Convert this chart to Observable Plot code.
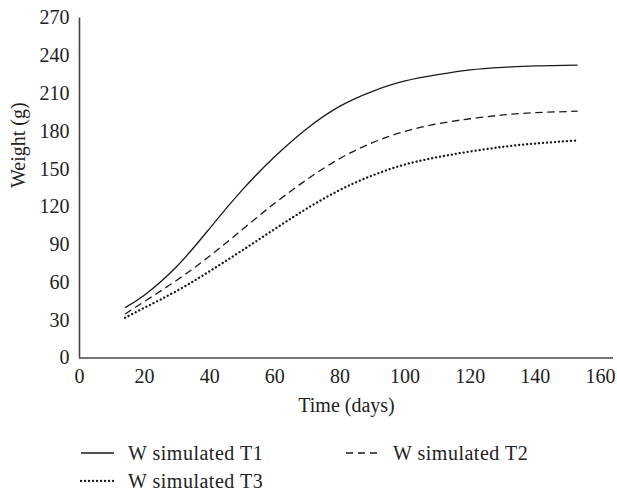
<!DOCTYPE html>
<html>
<head>
<meta charset="utf-8">
<script src="https://cdn.jsdelivr.net/npm/d3@7"></script>
<script src="https://cdn.jsdelivr.net/npm/@observablehq/plot@0.6"></script>
<style>
  html, body { margin: 0; padding: 0; background: #fff; }
  #wrap { width: 617px; font-family: "Liberation Serif", "Times New Roman", serif; color: #222; }
  #legend { position: relative; width: 617px; height: 66px; font-size: 20px; letter-spacing: 0.5px; }
  .item { position: absolute; display: flex; align-items: center; height: 24px; white-space: nowrap; }
  .item svg { display: block; margin-right: 14px; }
</style>
</head>
<body>
<div id="wrap">
  <div id="chart"></div>
  <div id="legend"></div>
</div>
<script>
// Data
const days = [14, 20, 30, 40, 50, 60, 70, 80, 90, 100, 110, 120, 130, 140, 153];
const wT1  = [40, 50, 73, 103, 133.5, 160, 182.5, 200, 211.8, 220, 225, 228.8, 230.8, 232, 232.6];
const wT2  = [35, 45, 62, 81, 102, 123, 142, 158.5, 171, 180, 186, 190, 193, 194.8, 196];
const wT3  = [32, 40, 53.5, 69, 85.5, 102.5, 119, 133.5, 145, 153.7, 159.5, 164, 167.7, 170.3, 172.8];
const seriesNames = ["W simulated T1", "W simulated T2", "W simulated T3"];
const xTicks = [0, 20, 40, 60, 80, 100, 120, 140, 160];
const yTicks = [0, 30, 60, 90, 120, 150, 180, 210, 240, 270];
const xLabel = "Time (days)";
const yLabel = "Weight (g)";

const styles = [
  {strokeDasharray: null, strokeWidth: 1.3, strokeLinecap: "butt"},
  {strokeDasharray: "7.5 4.5", strokeWidth: 1.3, strokeLinecap: "butt"},
  {strokeDasharray: "0.1 3.9", strokeWidth: 2.3, strokeLinecap: "round"}
];

const seriesVals = [wT1, wT2, wT3];
const rows = seriesVals.map((vals, s) => days.map((d, i) => ({day: d, w: vals[i], s: seriesNames[s]})));

const lineMarks = rows.map((data, s) => Plot.line(data, {
  x: "day", y: "w", curve: "natural", stroke: "#1a1a1a",
  strokeWidth: styles[s].strokeWidth,
  strokeDasharray: styles[s].strokeDasharray,
  strokeLinecap: styles[s].strokeLinecap
}));

const chart = Plot.plot({
  width: 617,
  height: 430,
  marginLeft: 79,
  marginRight: 4,
  marginTop: 17.5,
  marginBottom: 72.5,
  style: {fontFamily: "Liberation Serif, Times New Roman, serif", fontSize: "20px", color: "#222", background: "#fff"},
  x: {domain: [0, 164], label: null},
  y: {domain: [0, 270], label: null},
  marks: [
    Plot.axisX({ticks: xTicks, tickSize: 0, tickPadding: 11, label: null, fontSize: 20}),
    Plot.axisY({ticks: yTicks, tickSize: 0, tickPadding: 10, label: null, fontSize: 20}),
    ...lineMarks,
    Plot.ruleY([0], {stroke: "#444", strokeWidth: 1.6}),
    Plot.ruleX([0], {stroke: "#444", strokeWidth: 1.6}),
    Plot.text([xLabel], {text: d => d, frameAnchor: "bottom", dy: 54, fontSize: 20, fill: "#222"}),
    Plot.text([yLabel], {text: d => d, frameAnchor: "left", dx: -61, rotate: -90, fontSize: 20, fill: "#222"})
  ]
});
document.getElementById("chart").appendChild(chart);

// Legend
const legend = document.getElementById("legend");
const positions = [{left: 80, top: 11}, {left: 345, top: 11}, {left: 80, top: 39}];
seriesNames.forEach((name, s) => {
  const item = document.createElement("div");
  item.className = "item";
  item.style.left = positions[s].left + "px";
  item.style.top = positions[s].top + "px";
  const st = styles[s];
  item.innerHTML = `<svg width="34" height="10"><line x1="1" x2="34" y1="5" y2="5" stroke="#1a1a1a" stroke-width="${st.strokeWidth}" ${st.strokeDasharray ? `stroke-dasharray="${s===1 ? "7 5" : st.strokeDasharray}"` : ""} stroke-linecap="${st.strokeLinecap}"/></svg><span>${name}</span>`;
  legend.appendChild(item);
});
</script>
</body>
</html>
